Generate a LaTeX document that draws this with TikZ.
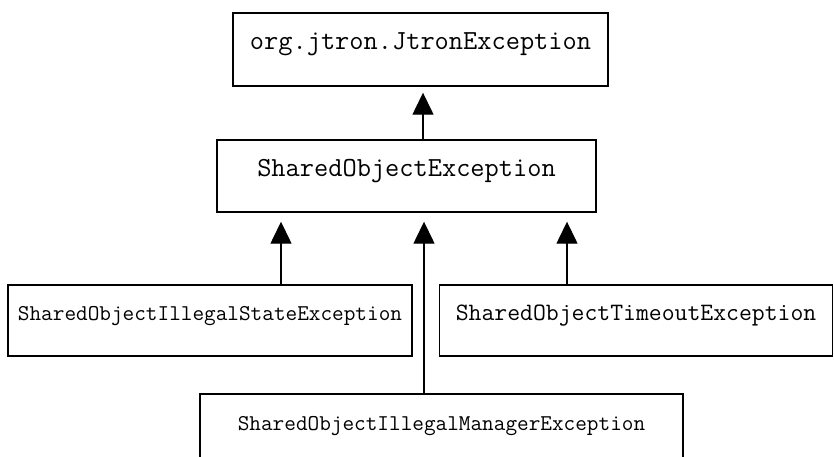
\documentclass[tikz,border=0pt]{standalone}
\usepackage{fontspec}
\usetikzlibrary{arrows.meta}
\tikzset{
  cls/.style={draw, line width=1.4pt, inner sep=0pt, font=\ttfamily,
    minimum width=#1},
  big/.style={font=\fontsize{27.6}{30}\ttfamily},
  mid/.style={font=\fontsize{25}{28}\ttfamily},
  small/.style={font=\fontsize{22.6}{25}\ttfamily},
  half/.style={text height=#1, text depth=#1},
  inherit/.style={line width=1.4pt,
    -{Triangle[width=21pt,length=22pt]}, shorten >=#1}
}
\begin{document}
\begin{tikzpicture}[x=1pt,y=-1pt]
  \useasboundingbox (0,0) rectangle (834,456);
  \clip (0,0) rectangle (834,456);

  \node[cls=375pt, big, half=36.5pt] (jtron) at (420.5,49.5) {org.jtron.JtronException};
  \node[cls=379pt, big, half=36pt] (shared) at (406.5,176) {SharedObjectException};
  \node[cls=404pt, small, half=35.5pt] (state) at (210,320.5) {SharedObjectIllegalStateException};
  \node[cls=393pt, mid, half=35.5pt] (timeout) at (636,320.5) {SharedObjectTimeoutException};
  \node[cls=483pt, small, half=36pt] (manager) at (441.5,430) {SharedObjectIllegalManagerException};

  \draw[inherit=6pt] ([xshift=16.5pt]shared.north) -- ([xshift=16.5pt]shared.north |- jtron.south);
  \draw[inherit=9pt] ([xshift=71pt]state.north) -- ([xshift=71pt]state.north |- shared.south);
  \draw[inherit=9pt] ([xshift=-17.5pt]manager.north) -- ([xshift=-17.5pt]manager.north |- shared.south);
  \draw[inherit=9pt] ([xshift=-69pt]timeout.north) -- ([xshift=-69pt]timeout.north |- shared.south);
\end{tikzpicture}
\end{document}
